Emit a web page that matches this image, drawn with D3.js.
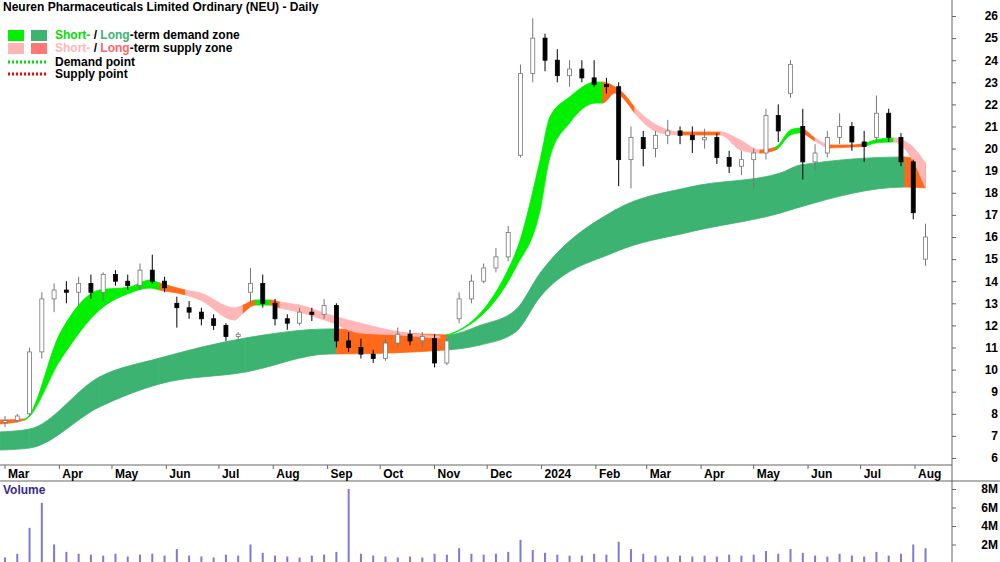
<!DOCTYPE html>
<html><head><meta charset="utf-8">
<script src="https://cdn.jsdelivr.net/npm/d3@7"></script>
<style>body{margin:0;background:#fff}svg{display:block;font-family:Arial,"Liberation Sans",sans-serif}</style>
</head><body><svg id="c" width="1000" height="562"></svg>
<script>
const opens  =[7.6,7.7,8.0,10.8,13.2,13.6,13.5,13.9,13.5,14.3,14.0,13.8,14.5,14.0,13.0,12.8,12.6,12.3,12.0,11.5,13.5,13.9,13.0,12.3,12.1,12.6,12.5,12.9,11.3,11.0,10.7,10.5,11.2,11.6,11.3,11.4,10.3,12.3,13.2,14.0,14.6,15.1,19.7,23.4,25.0,24.0,23.3,23.6,23.2,22.9,22.8,19.5,20.5,20.0,20.6,20.8,20.6,20.4,20.5,19.6,19.2,19.5,19.8,21.5,22.5,21.0,19.4,19.8,20.5,21.0,20.3,20.5,21.6,20.5,19.4,15.0];
const highs  =[7.9,8.0,11.0,13.5,13.9,14.0,14.2,14.3,14.4,14.5,14.3,14.8,15.2,14.2,13.3,13.1,12.8,12.5,12.1,11.7,14.6,14.3,13.2,12.5,12.8,12.8,13.2,13.0,11.7,11.4,10.9,11.4,11.9,11.8,11.7,11.6,11.4,13.5,14.3,14.8,15.5,16.5,23.8,25.9,25.2,24.5,24.0,24.0,24.0,23.2,23.0,21.0,20.8,20.8,21.3,21.0,21.0,20.9,20.7,19.9,19.9,20.0,21.8,22.0,24.0,21.8,20.2,20.8,21.6,21.2,20.8,22.4,21.8,20.7,19.5,16.6];
const lows   =[7.4,7.6,7.9,10.5,12.6,13.0,12.9,13.2,13.1,13.8,13.6,13.6,13.9,13.5,11.9,12.3,12.0,11.8,11.3,11.3,13.0,12.8,12.0,11.8,12.0,12.2,12.3,11.0,10.8,10.5,10.3,10.4,11.0,11.1,11.0,10.1,10.2,12.1,13.0,13.9,14.4,14.9,19.6,23.0,23.5,23.0,22.8,23.0,22.8,22.5,18.3,18.2,19.2,19.6,20.2,20.2,19.8,20.0,19.3,18.9,18.8,18.2,19.5,20.3,22.3,18.6,19.0,19.6,20.2,19.9,19.4,20.3,20.3,19.2,16.8,14.7];
const closes =[7.7,7.9,10.8,13.2,13.6,13.5,13.9,13.5,14.3,14.0,13.8,14.5,14.0,13.7,12.8,12.6,12.3,12.0,11.5,11.6,13.9,13.0,12.3,12.1,12.6,12.5,12.9,11.3,11.0,10.7,10.5,11.2,11.6,11.3,11.5,10.3,11.3,13.2,14.0,14.6,15.1,16.2,23.4,25.0,24.0,23.3,23.6,23.2,22.9,22.8,19.5,20.5,20.0,20.6,20.8,20.6,20.4,20.5,19.6,19.2,19.5,19.8,21.5,20.8,23.8,19.4,19.8,20.5,21.0,20.3,20.1,21.6,20.5,19.4,17.1,16.0];
const volumes=[0.6,1.0,3.8,6.5,2.0,1.2,1.0,0.9,0.8,1.0,0.7,0.9,1.0,0.8,1.5,0.8,0.7,0.6,0.9,0.8,2.0,1.1,0.8,0.7,0.6,0.8,0.9,1.2,8.0,1.0,0.8,0.7,0.6,0.7,0.6,1.0,0.9,1.6,1.0,0.9,1.0,1.2,2.5,1.4,1.1,0.9,0.8,0.8,1.0,0.9,2.3,1.5,1.0,0.8,0.7,0.8,0.7,0.8,0.7,0.9,0.8,0.9,1.3,1.0,1.5,1.1,0.8,0.7,1.0,0.8,0.7,1.2,0.8,1.0,2.0,1.6];
const longIdx  =[-0.4,2,7.7,12.6,19.6,26.5,27,36,38.7,41.6,43.6,49.7,55.8,63.2,64.8,73.3,75];
const longUp   =[7.18,7.31,9.67,10.52,11.43,11.84,11.84,11.57,12.0,12.7,14.37,17.22,18.26,18.9,19.26,19.62,19.35];
const longLo   =[6.36,6.45,8.31,9.35,9.89,10.71,10.71,10.89,11.11,11.7,13.29,15.32,16.23,17.09,17.36,18.26,18.22];
const longState=["d","d","d","d","d","d","s","d","d","d","d","d","d","d","d","s","s"];
const shortIdx =[-0.4,1.6,4.5,7.7,10.2,11.8,12.6,14.7,15.9,18.7,19.4,20.4,21.6,22.4,24,26.5,28.9,32.2,35.5,36,41.6,43.6,44.4,46,48.1,48.7,49.7,50.5,51.3,53.4,55,58.3,59.9,61.5,62.8,64,64.8,66,67.2,68.9,70.1,70.9,72.4,73.8,75];
const shortUp  =[7.72,7.77,11.66,13.6,13.74,14.05,13.92,13.6,13.47,12.79,12.92,13.15,13.15,13.06,12.92,12.47,12.11,11.7,11.52,11.57,15.28,19.48,21.43,22.33,23.01,23.01,22.79,22.43,21.88,20.98,20.75,20.75,20.39,19.94,20.07,20.84,20.93,20.48,20.16,20.16,20.25,20.39,20.48,20.16,19.35];
const shortLo  =[7.54,7.72,10.43,12.7,13.47,13.69,13.6,13.38,13.15,12.24,12.56,12.92,12.92,12.79,12.6,12.15,11.66,11.57,11.43,11.52,14.6,17.22,19.62,21.16,22.06,22.06,22.52,22.2,21.61,20.71,20.62,20.62,19.94,19.8,19.94,20.62,20.71,20.34,20.03,20.07,20.12,20.25,20.3,19.62,18.22];
const shortState=["o","d","d","d","d","d","o","p","p","p","o","d","o","p","p","p","p","p","o","d","d","d","d","d","d","o","o","o","p","p","o","p","p","o","d","d","o","p","o","o","d","d","p","p","p"];
const priceTicks=[6,7,8,9,10,11,12,13,14,15,16,17,18,19,20,21,22,23,24,25,26];
const volTicks=[2,4,6,8];
const monthLabels=["Mar","Apr","May","Jun","Jul","Aug","Sep","Oct","Nov","Dec","2024","Feb","Mar","Apr","May","Jun","Jul","Aug"];

const svg=d3.select("#c");
const t0=new Date(2023,2,1);
const x=d3.scaleTime().domain([new Date(2023,2,1),new Date(2024,7,1)]).range([5,915]);
const xi=i=>x(new Date(t0.getTime()+i*7*864e5));
const y=d3.scaleLinear().domain([6,26]).range([458,16]);
const yv=d3.scaleLinear().domain([0,8]).range([563,489]);
const colors={d:"#00f000",p:"#ffb6b6",o:"#ff6a1a"};
const longColors={d:"#3cb371",s:"#ff6a1a"};
const defs=svg.append("defs");
let cid=0;
function band(idx,up,lo,state,cmap){
  const area=d3.area().curve(d3.curveMonotoneX).x(j=>xi(idx[j])).y0(j=>y(lo[j])).y1(j=>y(up[j]));
  const d=area(d3.range(idx.length));
  for(let k=0;k<idx.length-1;k++){
    const id="cl"+(cid++);
    const x0=xi(idx[k]), x1=xi(idx[k+1]);
    defs.append("clipPath").attr("id",id).append("rect").attr("x",x0-0.3).attr("y",0).attr("width",x1-x0+0.6).attr("height",470);
    const c=cmap[state[k]];
    svg.append("path").attr("d",d).attr("fill",c).attr("stroke",c).attr("stroke-width",0.8).attr("clip-path",`url(#${id})`);
  }
}
band(longIdx,longUp,longLo,longState,longColors);
band(shortIdx,shortUp,shortLo,shortState,colors);
const cw=4;
closes.forEach((c,i)=>{
  const cx=xi(i), o=opens[i], up=c>=o;
  svg.append("line").attr("x1",cx).attr("x2",cx).attr("y1",y(highs[i])).attr("y2",y(lows[i])).attr("stroke",up?"#777":"#000");
  const top=y(Math.max(o,c)), bot=y(Math.min(o,c));
  svg.append("rect").attr("x",cx-cw/2).attr("y",top).attr("width",cw).attr("height",Math.max(1,bot-top))
    .attr("fill",up?"#fff":"#000").attr("stroke",up?"#777":"#000").attr("stroke-width",0.8);
});
svg.append("line").attr("x1",952).attr("x2",952).attr("y1",0).attr("y2",562).attr("stroke","#666");
svg.append("line").attr("x1",0).attr("x2",952).attr("y1",465).attr("y2",465).attr("stroke","#666");
svg.append("line").attr("x1",0).attr("x2",1000).attr("y1",481).attr("y2",481).attr("stroke","#666");
function styleAxis(g){
  g.select(".domain").remove();
  g.selectAll("text").attr("x",46).attr("text-anchor","end").attr("font-weight","bold").attr("font-size",12).attr("font-family","Arial,Liberation Sans").attr("fill","#000");
  g.selectAll("line").attr("stroke","#666");
}
styleAxis(svg.append("g").attr("transform","translate(952,0)").call(d3.axisRight(y).tickValues(priceTicks).tickSize(4).tickFormat(d3.format("d"))));
styleAxis(svg.append("g").attr("transform","translate(952,0)").call(d3.axisRight(yv).tickValues(volTicks).tickSize(4).tickFormat(d=>d+"M")));
const months=d3.timeMonth.range(new Date(2023,2,1),new Date(2024,7,2));
months.forEach((m,i)=>{
  const mx=x(m);
  svg.append("line").attr("x1",mx).attr("x2",mx).attr("y1",465).attr("y2",469).attr("stroke","#666");
  svg.append("text").attr("x",mx+3).attr("y",478).attr("font-size",12).attr("font-weight","bold").text(monthLabels[i]);
});
volumes.forEach((v,i)=>{
  svg.append("rect").attr("x",xi(i)-1).attr("y",yv(v)).attr("width",2).attr("height",yv(0)-yv(v)).attr("fill","#8078d8");
});
svg.append("text").attr("x",3).attr("y",494).attr("font-size",12).attr("font-weight","bold").attr("fill","#3a2a8a").text("Volume");
svg.append("text").attr("x",3).attr("y",11).attr("font-size",12).attr("font-weight","bold").text("Neuren Pharmaceuticals Limited Ordinary (NEU) - Daily");
const lg=[["#00f000","#3cb371","Short-","#00e000","Long","#3cb371","-term demand zone",35],["#ffb6b6","#ff7777","Short-","#ffb6b6","Long","#ff6666","-term supply zone",48]];
lg.forEach(r=>{
  svg.append("rect").attr("x",8).attr("y",r[7]-5).attr("width",16).attr("height",11).attr("fill",r[0]);
  svg.append("rect").attr("x",31).attr("y",r[7]-5).attr("width",16).attr("height",11).attr("fill",r[1]);
  const t=svg.append("text").attr("x",55).attr("y",r[7]+4).attr("font-size",12).attr("font-weight","bold");
  t.append("tspan").attr("fill",r[3]).text(r[2]);
  t.append("tspan").attr("fill","#000").text(" / ");
  t.append("tspan").attr("fill",r[5]).text(r[4]);
  t.append("tspan").attr("fill","#000").text(r[6]);
});
[["#00e000","Demand point",62],["#ff0000","Supply point",74]].forEach(r=>{
  svg.append("line").attr("x1",8).attr("x2",46).attr("y1",r[2]).attr("y2",r[2]).attr("stroke",r[0]).attr("stroke-width",3).attr("stroke-dasharray","2,2");
  svg.append("text").attr("x",55).attr("y",r[2]+4).attr("font-size",12).attr("font-weight","bold").text(r[1]);
});
</script></body></html>
